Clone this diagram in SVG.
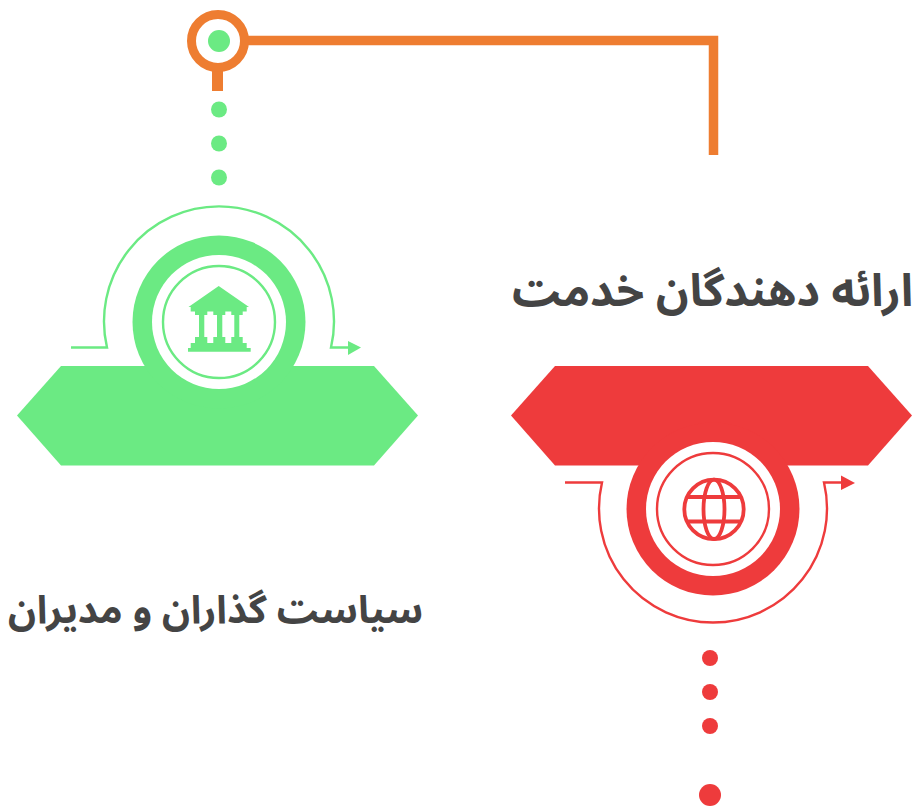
<svg xmlns="http://www.w3.org/2000/svg" width="915" height="806" viewBox="0 0 915 806">
<style>
.g{fill:#6bea83}.r{fill:#ee3b3c}.w{fill:#fff}
.gl{fill:none;stroke:#6bea83;stroke-width:2.4}.rl{fill:none;stroke:#ee3b3c;stroke-width:2.4}
.rt{fill:none;stroke:#ee3b3c;stroke-width:3.800}
.o{fill:none;stroke:#ee7d31}
.t{font-family:"Noto Sans Arabic","DejaVu Sans",sans-serif;font-weight:700;fill:#444;direction:rtl}
</style>
<rect width="915" height="806" fill="#fff"/>
<g id="connectors">
<path class="o" stroke-width="9.500" d="M245 40.500H713.500V155"/>
<path class="o" stroke-width="11" d="M217.500 70V91"/>
</g>
<g id="top-marker">
<circle cx="218" cy="41" r="26.500" fill="#fff" stroke="#ee7d31" stroke-width="9"/>
<circle class="g" cx="219" cy="41" r="11"/>
</g>
<g id="green-dots"><circle class="g" cx="219" cy="109.500" r="8"/><circle class="g" cx="219" cy="143.500" r="8"/><circle class="g" cx="219" cy="177.500" r="8"/></g>
<g id="policy-node">
<path class="g" d="M17 415.500L61 366H374L418 415.500L374 465.500H61Z"/>
<circle class="g" cx="219" cy="322" r="86.500"/>
<circle class="w" cx="219" cy="322" r="67"/>
<circle class="gl" cx="219" cy="322" r="56"/>
<path class="gl" d="M71 347.500H107A115 115 0 1 1 331 347.500H349"/>
<path class="g" d="M348 341L361 347.500L348 355Z"/>
<path class="g" fill-rule="evenodd" d="M218.700 286L249 307H246.700V311.500H242.700V315H239.300V337H242.700V343H246.700V348H250.700V351.700H188V348H190.700V343H195V337H199V315H195V311.500H190.700V307H188.500ZM207.300 311.500H213.300V315H217V337H213.300V343H207.300V337H204.300V315H207.300ZM225.300 311.500H231.300V315H234.300V337H231.300V343H225.300V337H222.300V315H225.300Z"/>
</g>
<g id="provider-node">
<path class="r" d="M511 415.500L555 366H868L912 415.500L868 465.500H555Z"/>
<circle class="r" cx="713" cy="509" r="86.500"/>
<circle class="w" cx="713" cy="509" r="67"/>
<circle class="rl" cx="713" cy="509" r="56"/>
<path class="rl" d="M565 482.500H602A114 114 0 1 0 824 482.500H842"/>
<path class="r" d="M841 475.500L855 483L841 490Z"/>
<circle class="rt" cx="714" cy="509.300" r="29.700"/>
<ellipse class="rt" cx="714" cy="509.300" rx="10.500" ry="29.700"/>
<path class="rt" d="M687 497H741M687 521.500H741"/>
</g>
<g id="red-dots"><circle class="r" cx="710" cy="658" r="8"/><circle class="r" cx="710" cy="692" r="8"/><circle class="r" cx="710" cy="726" r="8"/><circle class="r" cx="710" cy="795" r="11"/></g>
<text class="t" font-size="45.200" x="913" y="306">ارائه دهندگان خدمت</text>
<text class="t" font-size="38.800" x="423" y="623">سیاست گذاران و مدیران</text>
</svg>
